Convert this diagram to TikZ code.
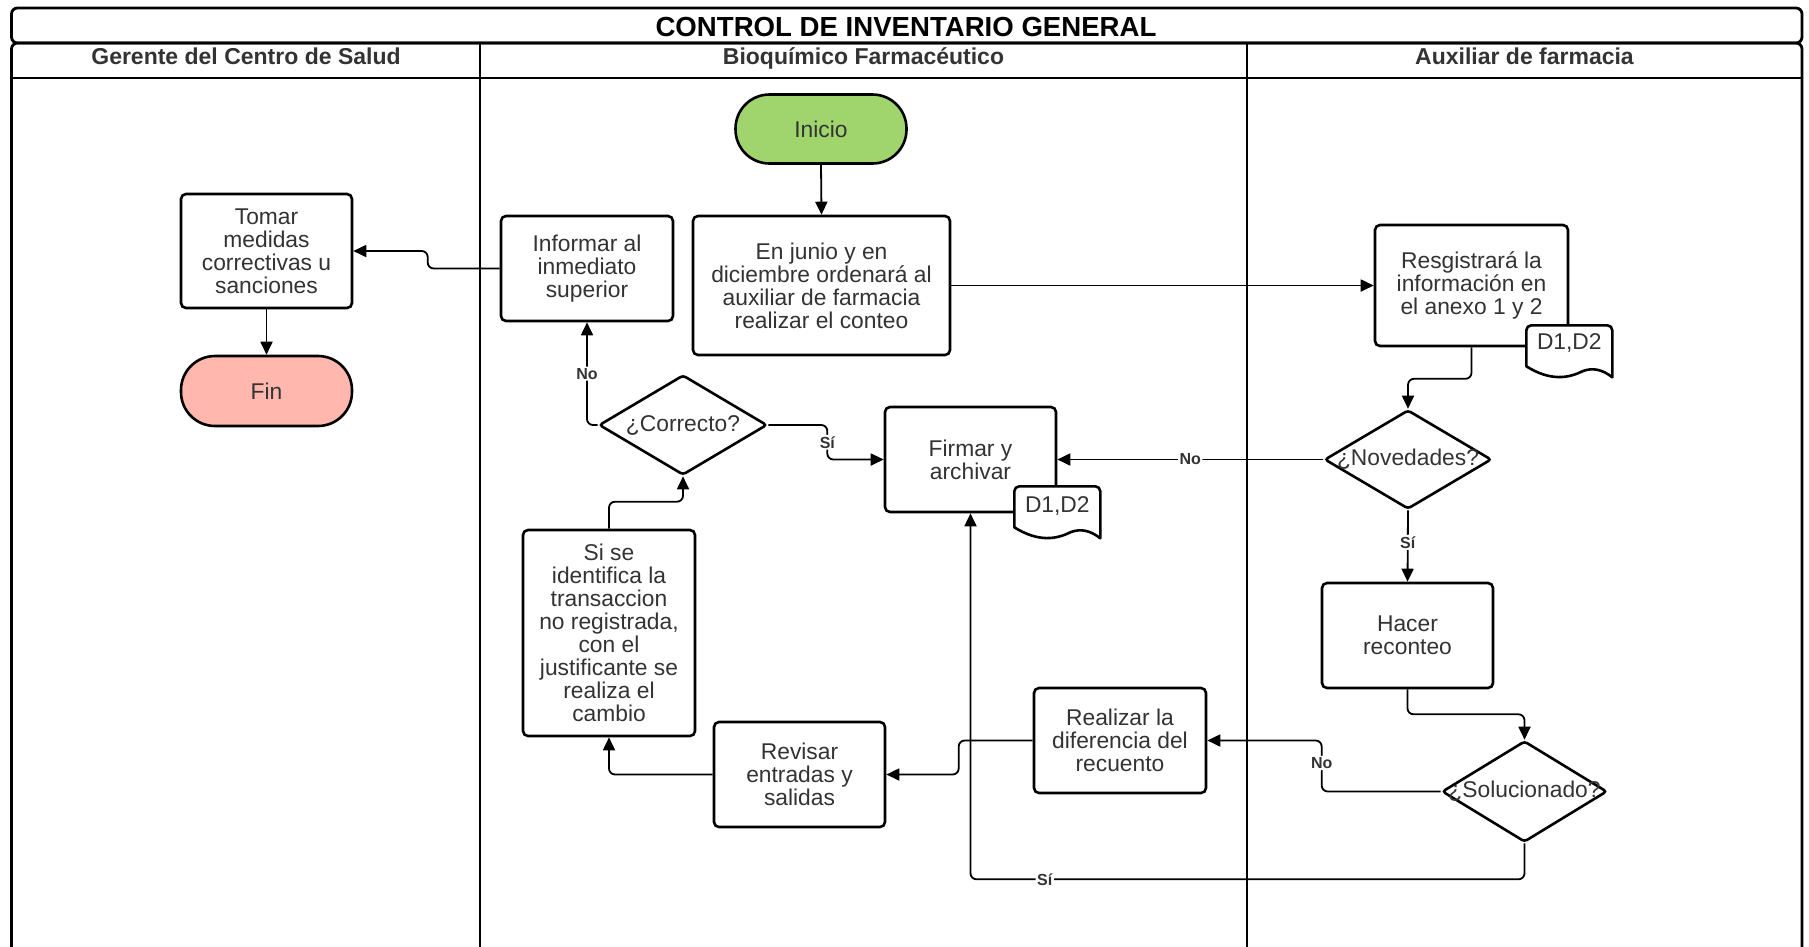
\documentclass[tikz,border=0pt]{standalone}
\usepackage{fontspec}
\setmainfont{Liberation Sans}
\usetikzlibrary{arrows.meta,shapes.geometric}
\definecolor{txt}{HTML}{333333}
\definecolor{startgreen}{HTML}{A0D56E}
\definecolor{endpink}{HTML}{FFB7AE}

\begin{document}
\begin{tikzpicture}[x=1pt,y=-1pt,
  every node/.style={text=txt},
  proc/.style={draw=black, line width=2.6pt, rounded corners=5pt, fill=white,
    align=center, inner sep=0pt, font=\fontsize{22.8}{23}\selectfont},
  term/.style={proc, rounded corners=34pt},
  decision/.style={diamond, draw=black, line width=2.6pt, rounded corners=3pt,
    fill=white, inner sep=0pt},
  qtext/.style={font=\fontsize{22.8}{23}\selectfont, text=txt},
  link/.style={line width=1.8pt, rounded corners=6pt,
    -{Triangle[length=13pt,width=12pt]}},
  branch/.style={fill=white, inner sep=1.5pt, font=\bfseries\fontsize{16}{16}\selectfont},
  lane/.style={line width=2.8pt, draw=black},
  lanehead/.style={anchor=base, font=\bfseries\fontsize{23}{23}\selectfont},
  doctext/.style={font=\fontsize{22.8}{23}\selectfont, inner sep=0pt},
  docline/.style={draw=black, fill=white, line width=2.6pt, line join=round},
]
\useasboundingbox (0,0) rectangle (1809,946);

% swimlane frame
\begin{scope}
  \clip (0,0) rectangle (1809,946);
  \draw[lane, rounded corners=6pt] (11.5,8) rectangle (1802,43);
  \draw[lane, rounded corners=6pt] (11.5,43) rectangle (1802,1000);
  \draw[lane] (11.5,78) -- (1802,78);
  \draw[lane] (480,43) -- (480,1000);
  \draw[lane] (1247,43) -- (1247,1000);
\end{scope}

\node[anchor=base, font=\bfseries\fontsize{27.6}{27.6}\selectfont, text=black] (title) at (906,36) {CONTROL DE INVENTARIO GENERAL};
\node[lanehead] (laneA) at (246,64.5) {Gerente del Centro de Salud};
\node[lanehead] (laneB) at (863.5,64.5) {Bioquímico Farmacéutico};
\node[lanehead] (laneC) at (1524.5,64.5) {Auxiliar de farmacia};

% steps
\node[term, fill=startgreen, minimum width=171pt, minimum height=69pt] (inicio) at (821,129) {Inicio};
\node[proc, minimum width=257pt, minimum height=139pt] (junio) at (821.5,285.5)
  {En junio y en\\diciembre ordenará al\\auxiliar de farmacia\\realizar el conteo};
\node[proc, minimum width=172pt, minimum height=105pt] (informar) at (587,268.5)
  {Informar al\\inmediato\\superior};
\node[proc, minimum width=171pt, minimum height=114pt] (tomar) at (266.5,251)
  {Tomar\\medidas\\correctivas u\\sanciones};
\node[term, fill=endpink, minimum width=171pt, minimum height=70pt] (fin) at (266.5,391) {Fin};
\node[proc, minimum width=193pt, minimum height=121pt] (resg) at (1471.5,285.5)
  {Resgistrará la\\información en\\el anexo 1 y 2};
\node[decision, minimum width=167pt, minimum height=99pt,
  label={[qtext]center:¿Novedades?}] (novedades) at (1408,459.5) {};
\node[proc, minimum width=171pt, minimum height=105pt] (firmar) at (970.5,459.5)
  {Firmar y\\archivar};
\node[decision, minimum width=168pt, minimum height=100pt,
  label={[qtext]center:¿Correcto?}] (correcto) at (683,425) {};
\node[proc, minimum width=172pt, minimum height=206pt] (sise) at (609,633)
  {Si se\\identifica la\\transaccion\\no registrada,\\con el\\justificante se\\realiza el\\cambio};
\node[proc, minimum width=171pt, minimum height=105pt] (hacer) at (1407.5,635.5)
  {Hacer\\reconteo};
\node[decision, minimum width=165pt, minimum height=101pt,
  label={[qtext]center:¿Solucionado?}] (soluc) at (1524.5,791.5) {};
\node[proc, minimum width=172pt, minimum height=105pt] (realizar) at (1120,740.5)
  {Realizar la\\diferencia del\\recuento};
\node[proc, minimum width=171pt, minimum height=105pt] (revisar) at (799.5,774.5)
  {Revisar\\entradas y\\salidas};

% document sheets attached to steps
\coordinate (docA) at ([shift={(-43,-22)}]resg.south east);
\coordinate (docB) at ([shift={(-43,-27)}]firmar.south east);
\foreach \d in {docA,docB}{
  \begin{scope}[shift={(\d)}]
    \draw[docline] (0,41) {[rounded corners=5pt] -- (0,0) -- (86,0)} -- (86,52)
      .. controls (76,44) and (66,42) .. (56,46)
      .. controls (42,53) and (24,56) .. (0,41) -- cycle;
  \end{scope}
}
\node[doctext] (docAtext) at ([shift={(43,18)}]docA) {D1,D2};
\node[doctext] (docBtext) at ([shift={(43,20)}]docB) {D1,D2};

% connectors
\draw[link] (inicio.south) -- (junio.north);
\draw[link] (junio.east) -- (resg.west);
\draw[link] (informar.west) -- ++(-72,0) |- (tomar.east);
\draw[link] (tomar.south) -- (fin.north);
\draw[link] (correcto.west) -| (informar.south) node[branch, pos=0.75] {No};
\draw[link] (correcto.east) -- ++(59,0) |- (firmar.west) node[branch, pos=0.25] {Sí};
\draw[link] (resg.south) -- ++(0,31.5) -| (novedades.north);
\draw[link] (novedades.west) -- (firmar.east) node[branch, pos=0.5] {No};
\draw[link] (novedades.south) -- (hacer.north) node[branch, pos=0.45] {Sí};
\draw[link] (hacer.south) -- ++(0,25) -| (soluc.north);
\draw[link] (soluc.west) -- ++(-119,0) |- (realizar.east) node[branch, pos=0.28] {No};
\draw[link] (soluc.south) -- ++(0,36) -| (firmar.south) node[branch, pos=0.433] {Sí};
\draw[link] (realizar.west) -- ++(-74,0) |- (revisar.east);
\draw[link] (revisar.west) -| (sise.south);
\draw[link] (sise.north) -- ++(0,-27) -| (correcto.south);
\end{tikzpicture}
\end{document}
